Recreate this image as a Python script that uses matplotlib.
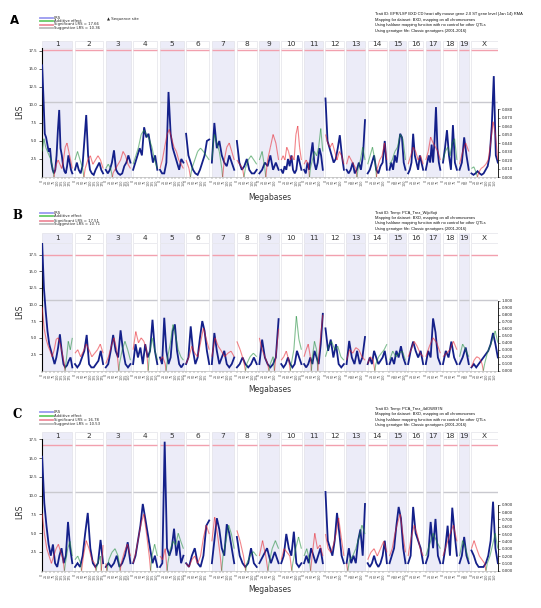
import numpy as np
import matplotlib.pyplot as plt
from matplotlib.lines import Line2D
from matplotlib.patches import Rectangle
from matplotlib.collections import LineCollection

# chromosomes (mouse, Mb)
chrom_names = ['1', '2', '3', '4', '5', '6', '7', '8', '9', '10', '11', '12',
               '13', '14', '15', '16', '17', '18', '19', 'X']
chrom_len = [195, 182, 160, 157, 152, 150, 145, 129, 125, 131, 122, 120,
             120, 125, 104, 98, 95, 91, 61, 171]

# ---- panel A ----
lrs_a = [
    [15.5, 11, 6, 5.5, 4.5, 3.5, 4, 2, 1, 0.5, 1, 3, 6.5, 9.3, 4, 3, 1.5, 0.8, 0.5, 1.5, 3, 2, 1, 0.5],
    [1, 2, 1, 0.5, 1.5, 5, 8.6, 3, 1, 0.5, 0.3, 1, 1.5, 2, 1, 0.5],
    [1, 0.5, 1, 2, 3.7, 1, 0.5, 0.3, 0.5, 1.5, 2, 3, 2],
    [1, 2, 3, 4, 3, 6.9, 5.5, 6, 4, 2, 3, 1],
    [1, 0.5, 0.5, 2, 11.8, 6, 4, 3, 2, 1, 2.5, 2],
    [6, 3, 2, 1, 0.5, 0.3, 1, 2, 3, 5, 5.2],
    [2, 7.5, 4, 5, 3, 2, 1.5, 3, 2, 1],
    [5, 2, 1, 1.5, 2.5, 1, 0.5, 0.5, 1],
    [0.5, 1, 2, 1.5, 3, 1, 2, 1],
    [1, 0.5, 1.5, 1, 2.5, 1.5, 3, 1, 0.5, 1, 3, 2, 1],
    [1, 0.5, 2, 1, 3, 4.8, 2, 1, 2, 4, 3, 1],
    [10.9, 5, 4, 3, 2, 2.5, 4, 5.8, 3, 1],
    [1, 0.5, 1, 2, 0.5, 1, 2, 1, 3, 7.9],
    [0.5, 1, 2, 3, 1, 0.5, 1.5, 2, 5, 1],
    [1, 2, 1, 3, 2, 4, 6, 5.5, 2, 1],
    [0.5, 1, 2, 6, 3, 2, 1, 3, 2, 1],
    [1, 2, 3, 2, 4.5, 2, 5, 9.7, 4, 2, 1],
    [2, 4, 6.5, 3, 1, 7.2, 2, 1],
    [1, 2, 5.5, 3, 1],
    [0.5, 0.3, 0.5, 0.8, 0.5, 0.3, 0.5, 1, 1.5, 3, 7, 14, 3, 2],
]
add_a = [
    [-0.03, -0.045, -0.035, -0.03, -0.025, -0.02, -0.01, 0.005, 0.015, 0.02, 0.015, 0.01, 0.02, 0.035, 0.04, 0.03, 0.02, 0.01],
    [-0.02, -0.03, -0.02, -0.01, 0.01, 0.02, 0.025, 0.015, 0.02, 0.025, 0.02, 0.01],
    [-0.01, -0.015, -0.01, 0.005, 0.01, 0.015, 0.02, 0.03, 0.025, 0.015, 0.01],
    [-0.015, -0.025, -0.035, -0.05, -0.055, -0.05, -0.045, -0.035, -0.02, -0.01],
    [0.01, 0.02, 0.035, 0.05, 0.056, 0.045, 0.035, 0.03, 0.02, 0.015, 0.01],
    [0.02, 0.01, -0.01, -0.02, -0.03, -0.034, -0.03, -0.025, -0.02],
    [-0.02, -0.05, -0.04, -0.03, -0.01, 0.02, 0.035, 0.04, 0.03, 0.02],
    [0.02, 0.015, 0.01, -0.01, -0.02, -0.025, -0.02, -0.015],
    [-0.02, -0.03, -0.01, 0.02, 0.035, 0.05, 0.04, 0.02],
    [0.02, 0.025, 0.02, 0.035, 0.03, 0.02, 0.025, 0.02, 0.05, 0.06, 0.035, 0.02],
    [0.015, 0.02, 0.015, -0.01, -0.02, -0.03, -0.025, -0.035, -0.057, -0.03],
    [0.05, 0.04, 0.035, 0.04, 0.03, 0.02, 0.03, 0.025, 0.015],
    [0.015, 0.025, 0.02, 0.015, 0.01, -0.01, -0.02, -0.035, -0.02],
    [-0.015, -0.025, -0.035, -0.02, 0.01, 0.02, 0.025, 0.04, 0.02],
    [-0.015, -0.02, -0.03, -0.035, -0.05, -0.045, -0.02],
    [0.015, 0.025, 0.035, 0.03, 0.02, 0.025, 0.015],
    [0.02, 0.03, 0.047, 0.04, 0.035, 0.03, 0.02],
    [-0.02, -0.03, -0.035, -0.025, -0.04, -0.045, -0.02],
    [0.015, 0.03, 0.04, 0.03],
    [-0.01, -0.012, -0.005, 0.005, 0.01, 0.012, 0.015, 0.02, 0.04, 0.065, 0.05, 0.02],
]

# ---- panel B ----
lrs_b = [
    [19.2, 12.5, 9, 6, 4, 3, 2, 1, 2, 3.5, 5.5, 3, 1, 0.5, 0.8, 1.5, 2, 0.5],
    [1, 0.5, 1, 2, 3, 5.4, 1, 0.5, 0.5, 1, 1.5, 3, 1],
    [0.5, 1, 3, 5.4, 3, 2, 6.1, 3, 1, 0.5, 1],
    [1, 4, 2, 3.5, 1, 4, 2, 3, 7.7, 3, 1],
    [2, 1, 8, 3, 1, 2, 6, 7, 3, 1, 0.5, 1],
    [1, 2, 6.7, 3, 1, 2, 5, 7.5, 6, 3, 1],
    [1, 5.7, 3, 1, 2, 3, 1, 0.5, 1, 2],
    [0.5, 1, 2, 1, 0.5, 1, 2, 1],
    [1, 4.7, 2, 1, 0.5, 1, 2, 7.8],
    [1, 0.5, 1, 2, 1, 0.5, 1, 3, 2, 1],
    [1, 0.5, 1, 2, 1, 3, 2, 1, 4, 8.6],
    [6.4, 3, 4.7, 2, 4, 1, 0.5, 1],
    [1, 4.5, 2, 1, 3, 1, 2, 5.1],
    [1, 2, 1, 3, 2, 1, 1.5, 2, 3, 1],
    [1, 2, 1, 3, 2, 3.7, 2, 1],
    [1, 3, 4.4, 3, 2, 3, 1],
    [1, 3, 2, 7.9, 5.8, 2, 1],
    [1, 3, 2, 4.4, 2, 1],
    [1, 2, 3.5, 1],
    [0.5, 1, 0.5, 1, 1.5, 2, 2.5, 3, 4, 5.7, 4, 2],
]
add_b = [
    [0.91, 0.6, 0.45, 0.35, 0.28, 0.2, 0.3, 0.45, 0.47, 0.38, 0.25, 0.1, -0.15, -0.42, -0.3, -0.47],
    [0.25, 0.3, 0.2, 0.28, 0.38, 0.3, 0.2, 0.25, 0.3, 0.38, 0.25],
    [0.1, 0.2, 0.35, 0.47, 0.3, -0.1, -0.3, -0.42, -0.3, -0.15],
    [0.3, 0.56, 0.4, 0.47, 0.42, 0.3, -0.2, -0.47, -0.3, -0.15],
    [0.15, 0.2, 0.1, -0.2, -0.4, -0.66, -0.5, -0.3, -0.2, -0.15],
    [0.1, 0.2, 0.35, 0.25, 0.2, 0.4, 0.61, 0.45, 0.3],
    [0.2, 0.47, 0.35, 0.28, 0.2, 0.25, 0.28, 0.2],
    [0.42, 0.3, 0.15, -0.1, -0.2, -0.25, -0.2],
    [0.47, 0.3, 0.2, 0.1, -0.1, -0.2, 0.2, 0.6],
    [0.15, 0.2, 0.28, 0.15, -0.1, -0.3, -0.78, -0.45, -0.3],
    [0.2, 0.3, 0.38, 0.2, -0.2, -0.42, -0.3, 0.2, 0.5, 0.8],
    [-0.2, -0.35, -0.42, -0.3, -0.35, -0.2, -0.15],
    [0.15, 0.3, 0.25, 0.33, 0.3, 0.2, 0.15],
    [0.1, 0.2, 0.15, -0.1, -0.2, -0.25, -0.3, -0.38],
    [-0.15, -0.28, -0.2, -0.25, -0.28, -0.15],
    [0.2, 0.3, 0.42, 0.35, 0.25, 0.2],
    [0.2, 0.35, 0.47, 0.4, 0.25],
    [0.2, 0.25, 0.3, 0.42, 0.3],
    [-0.2, -0.38, -0.3, -0.2],
    [0.05, 0.15, 0.2, 0.18, 0.1, -0.1, -0.25, -0.35, -0.45, -0.57, -0.4],
]

# ---- panel C ----
lrs_c = [
    [15.2, 9, 6, 3.5, 2, 3.5, 1, 0.5, 2, 3, 1, 2, 6.5, 3, 1],
    [0.5, 1, 0.5, 2, 5, 7.7, 3, 1, 0.5, 1, 4.1, 1],
    [0.5, 1, 0.5, 1, 2, 0.5, 1, 2, 3.8, 1],
    [1, 2, 4, 6, 8.9, 7, 5, 3, 1, 2, 0.5],
    [0.5, 1, 17.2, 3, 2, 3, 5.6, 2, 4, 1, 2],
    [1, 0.5, 2, 3, 1, 0.5, 2, 6, 6.7],
    [1, 4, 7, 5.5, 3, 2, 6.2, 5, 3, 1],
    [4.5, 2, 1, 0.5, 1, 3, 1, 0.5],
    [1, 2, 3, 1, 2.5, 1],
    [1, 2, 4.9, 3, 2, 5.2, 1, 0.5, 1],
    [1, 2, 1, 3, 2, 1, 2, 3, 1],
    [10.5, 4, 3, 2, 4, 7.7, 5, 2, 1],
    [1, 3, 1, 2, 1, 4, 5.5, 2, 8.9],
    [1, 0.5, 1, 2, 1, 0.5, 1, 2, 4, 1],
    [1, 2, 3, 6, 8.5, 7, 3, 1],
    [1, 2, 8.5, 5, 4, 3, 1],
    [1, 2, 6.5, 3, 6.9, 2, 1],
    [1, 3, 6, 2, 8.4, 5, 2],
    [1, 2, 4.5, 2, 1],
    [2.7, 2, 1, 0.5, 0.5, 0.5, 1, 2, 4, 9.2, 3, 1],
]
add_c = [
    [0.78, 0.5, 0.3, 0.2, 0.1, 0.2, 0.3, 0.36, 0.25, 0.15, -0.1, -0.3, -0.4, -0.2],
    [-0.15, -0.2, -0.1, 0.2, 0.41, 0.3, 0.15, 0.1, -0.1, -0.2, 0.35],
    [0.1, -0.15, -0.25, -0.3, -0.2, 0.1, 0.25, 0.36, 0.2],
    [0.1, 0.25, 0.45, 0.65, 0.77, 0.5, 0.2, -0.2, -0.36, -0.2],
    [0.2, 0.15, 0.3, -0.1, -0.3, -0.4, -0.35, -0.51, -0.4, -0.3],
    [0.1, 0.05, 0.15, 0.2, 0.1, 0.2, 0.45, 0.62, 0.5],
    [0.4, 0.73, 0.5, 0.2, -0.2, -0.4, -0.62, -0.5, -0.3],
    [0.55, 0.4, 0.2, -0.1, -0.2, -0.26, -0.2],
    [0.2, 0.41, 0.2, -0.1, -0.3, -0.41, -0.3],
    [0.15, 0.3, 0.25, 0.2, -0.1, -0.3, -0.46, -0.3],
    [-0.2, -0.3, -0.15, 0.2, 0.51, 0.3, 0.35, 0.2],
    [0.5, 0.3, 0.25, 0.35, 0.5, 0.72, 0.45, 0.2],
    [0.1, -0.15, -0.2, -0.3, -0.45, -0.62, -0.5],
    [0.15, 0.25, 0.3, 0.2, 0.3, 0.4, 0.25],
    [0.2, 0.3, 0.5, 0.65, 0.77, 0.5, 0.25],
    [0.2, 0.45, 0.62, 0.5, 0.3, 0.2],
    [-0.2, -0.35, -0.51, -0.4, -0.3],
    [0.2, 0.35, 0.5, 0.62, 0.4],
    [-0.2, -0.41, -0.3, -0.15],
    [0.3, 0.41, 0.3, 0.2, 0.15, 0.1, -0.1, -0.2, -0.35, -0.51, -0.3],
]

sig_vals = [17.66, 17.51, 16.78]
sug_vals = [10.36, 10.71, 10.53]
trait_ids = ['Trait ID: EPR/LSP BXD CD heart affy mouse gene 2.0 ST gene level (Jan 14) RMA',
             'Trait ID: Temp: PCA_Trez_WIjo8ojt',
             'Trait ID: Temp: PCA_Trez_4dOWI97N']
info_lines = ['Mapping for dataset: BXD, mapping on all chromosomes',
              'Using haldane mapping function with no control for other QTLs',
              'Using genotype file: Classic genotypes (2001-2016)']
add_ticks = [np.arange(0, 0.0801, 0.01), np.arange(0, 1.001, 0.1), np.arange(0, 0.901, 0.1)]

W, H = 541, 608
fig = plt.figure(figsize=(W / 100, H / 100), dpi=100)


def frect(x0, y0, x1, y1):
    # pixel box (y from top) -> figure fraction rect
    return [x0 / W, 1 - y1 / H, (x1 - x0) / W, (y1 - y0) / H]


def ftext(x, y, s, **kw):
    fig.text(x / W, 1 - y / H, s, **kw)


def fline(x0, x1, y, **kw):
    fig.add_artist(Line2D([x0 / W, x1 / W], [1 - y / H] * 2, transform=fig.transFigure, **kw))


gap = 15
starts = np.cumsum([0] + [L + gap for L in chrom_len[:-1]])
xend = starts[-1] + chrom_len[-1]
shade = '#ececf8'
blue = '#14208a'

# pixel layout of the three panels
layout = [
    dict(strip=(41, 48), bottom=177, ymax=17.9, rmax=0.1518, letter=(15, 20),
         leg=[17.7, 21.0, 24.5, 28.3], info=[14.3, 19.7, 25.3, 31.0], lrs_y=112, mb_y=197),
    dict(strip=(233, 243), bottom=370.7, ymax=19.3, rmax=1.828, letter=(17, 215),
         leg=[212.7, 216.0, 220.7, 224.3], info=[212.7, 218.0, 223.3, 229.0], lrs_y=312, mb_y=390),
    dict(strip=(432, 439), bottom=570.7, ymax=17.56, rmax=1.796, letter=(17, 415),
         leg=[411.7, 415.7, 420.0, 424.3], info=[409.0, 414.3, 420.0, 425.3], lrs_y=512, mb_y=590),
]
lrs_all = [lrs_a, lrs_b, lrs_c]
add_all = [add_a, add_b, add_c]
letters = ['A', 'B', 'C']

for p, lay in enumerate(layout):
    st, sb = lay['strip']
    ax = fig.add_axes(frect(42, sb, 498, lay['bottom']))
    ax.set_xlim(0, xend)
    ax.set_ylim(0, lay['ymax'])
    sx = fig.add_axes(frect(42, st, 498, sb))
    sx.set_xlim(0, xend)
    sx.set_ylim(0, 1)
    sx.axis('off')

    for i, (s, L) in enumerate(zip(starts, chrom_len)):
        fc = shade if i % 2 == 0 else 'white'
        ax.add_patch(Rectangle((s, 0), L, lay['ymax'], fc=fc, ec='#dcdce4', lw=0.4, zorder=0))
        sx.add_patch(Rectangle((s, 0), L, 1, fc=fc, ec='#dcdce4', lw=0.4))
        sx.text(s + L / 2, 0.5, chrom_names[i], ha='center', va='center', fontsize=5.3, color='#333333')
        ax.hlines(sig_vals[p], s, s + L, color='#f2a0ae', lw=1.0, zorder=1)
        ax.hlines(sug_vals[p], s, s + L, color='#c9c9cf', lw=1.0, zorder=1)

        y = np.array(lrs_all[p][i], dtype=float)
        x = np.linspace(s + 1, s + L - 1, len(y))
        ax.plot(x, y, color=blue, lw=1.3, zorder=3, solid_joinstyle='miter')

    # additive effect on the right-hand scale
    ax2 = ax.twinx()
    ax2.set_ylim(0, lay['rmax'])
    for i, (s, L) in enumerate(zip(starts, chrom_len)):
        a = np.array(add_all[p][i], dtype=float)
        x = np.linspace(s + 1, s + L - 1, len(a))
        segs, cols = [], []
        for k in range(len(a) - 1):
            x0, x1, a0, a1 = x[k], x[k + 1], a[k], a[k + 1]
            if a0 * a1 < 0:
                xc = x0 + (x1 - x0) * a0 / (a0 - a1)
                segs.append([(x0, abs(a0)), (xc, 0)])
                cols.append('#e8202a' if a0 > 0 else '#1e8c3a')
                segs.append([(xc, 0), (x1, abs(a1))])
                cols.append('#e8202a' if a1 > 0 else '#1e8c3a')
            else:
                segs.append([(x0, abs(a0)), (x1, abs(a1))])
                cols.append('#e8202a' if a0 + a1 > 0 else '#1e8c3a')
        ax2.add_collection(LineCollection(segs, colors=cols, lw=0.8, alpha=0.55, zorder=4))

    rt = add_ticks[p]
    ax2.set_yticks(rt)
    ax2.set_yticklabels(['%.3f' % v for v in rt], fontsize=2.8)
    ax2.tick_params(axis='y', length=1.5, width=0.4, pad=1, colors='#222222')
    for side in ['top', 'left', 'bottom']:
        ax2.spines[side].set_visible(False)
    ax2.spines['right'].set_bounds(0, rt[-1])
    ax2.spines['right'].set_linewidth(0.6)

    # left axis
    lt = np.arange(2.5, lay['ymax'], 2.5)
    ax.set_yticks(lt)
    ax.set_yticklabels(['%.1f' % v for v in lt], fontsize=2.8)
    ax.tick_params(axis='y', length=2, width=0.5, pad=1.5, colors='#222222')
    for side in ['top', 'right']:
        ax.spines[side].set_visible(False)
    ax.spines['left'].set_linewidth(0.8)
    ax.spines['bottom'].set_color('#bbbbbb')
    ax.spines['bottom'].set_linewidth(0.5)

    # Mb ticks under each chromosome
    xt, xl = [], []
    for s, L in zip(starts, chrom_len):
        for m in range(0, L, 25):
            xt.append(s + m)
            xl.append(str(m))
    ax.set_xticks(xt)
    ax.set_xticklabels(xl, rotation=90, fontsize=2.4, color='#333333')
    ax.tick_params(axis='x', length=1.2, width=0.3, pad=0.8, colors='#555555')

    # titles, legend, info block
    lx, ly = lay['letter']
    ftext(lx, ly, letters[p], fontsize=8.5, fontweight='bold', ha='center', va='center',
          family='DejaVu Serif' if p else 'DejaVu Sans')
    ftext(20, lay['lrs_y'], 'LRS', fontsize=5.5, rotation=90, ha='center', va='center', color='#333333')
    ftext(270, lay['mb_y'], 'Megabases', fontsize=5.5, ha='center', va='center', color='#333333')

    leg_cols = ['#9a9af0', '#66cc66', '#ee8c9c', '#bbbbbb']
    leg_txt = ['LRS', 'Additive effect', 'Significant LRS = %.2f' % sig_vals[p],
               'Suggestive LRS = %.2f' % sug_vals[p]]
    for yy, c, t in zip(lay['leg'], leg_cols, leg_txt):
        fline(40, 53, yy, color=c, lw=1.3)
        ftext(54, yy, t, fontsize=2.7, va='center', ha='left', color='#222222')
    if p == 0:
        ftext(107, 19, '\u25b2 Sequence site', fontsize=2.8, va='center', ha='left', color='#222222')

    for yy, t in zip(lay['info'], [trait_ids[p]] + info_lines):
        ftext(375, yy, t, fontsize=2.9, va='center', ha='left', color='#111111',
              family='Liberation Sans')

fig.savefig('out.png', dpi=100)
